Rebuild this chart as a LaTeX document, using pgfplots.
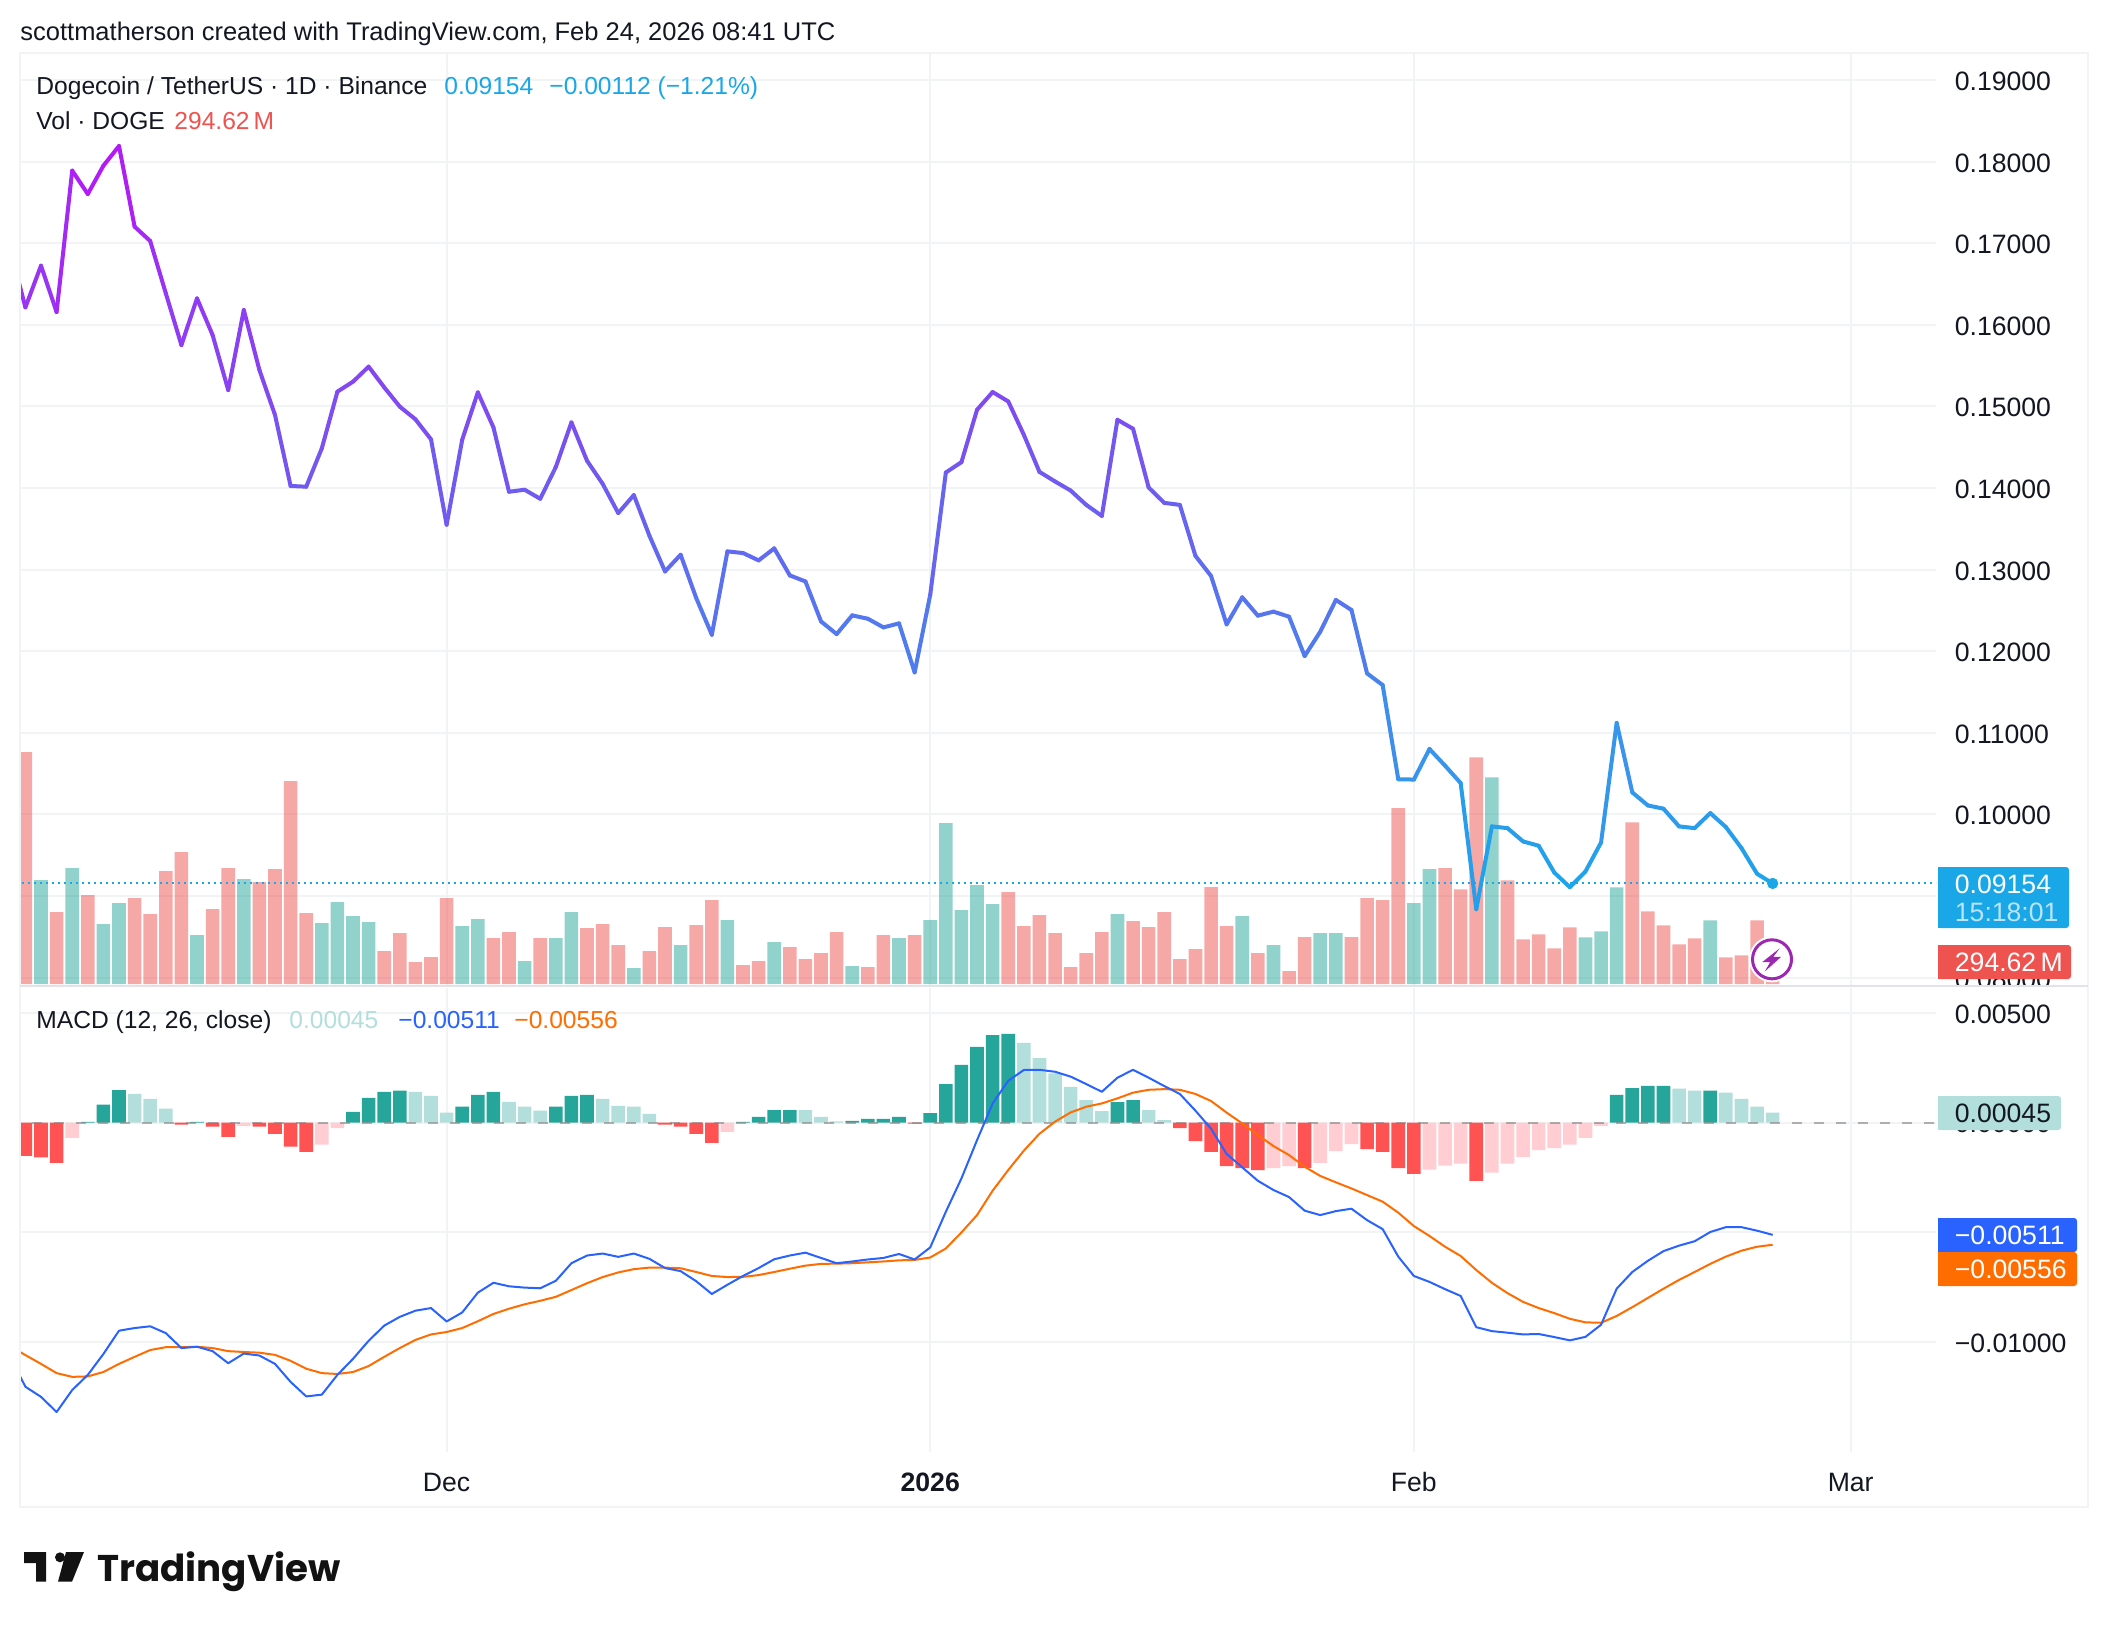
\documentclass[border=0pt]{standalone}
\usepackage{fontspec}
\usepackage{graphicx}
\usepackage{pgfplots}
\usepackage{pgfplotstable}
\pgfplotsset{compat=1.18}
\setmainfont{Liberation Sans}
\newfontfamily\logofont{Poppins}

\definecolor{gridc}{HTML}{F2F3F5}
\definecolor{sepc}{HTML}{E0E3EB}
\definecolor{cyanc}{HTML}{19A7E8}
\definecolor{upvol}{HTML}{26A69A}
\definecolor{dnvol}{HTML}{EF5350}
\definecolor{upD}{HTML}{26A69A}
\definecolor{upL}{HTML}{B2DFDB}
\definecolor{dnD}{HTML}{FF5252}
\definecolor{dnL}{HTML}{FFCDD2}
\definecolor{macdc}{HTML}{2962FF}
\definecolor{sigc}{HTML}{FF6D00}
\definecolor{txt}{HTML}{131722}
\definecolor{boltc}{HTML}{9C27B0}

% day, close, macd, signal (day 0 = Nov 4, 27 = Dec 1, 58 = Jan 1, 89 = Feb 1)
\pgfplotstableread{
day close macd signal
-1 0.16950 -0.01062 -0.01017
0 0.16214 -0.01202 -0.01058
1 0.16725 -0.01248 -0.01098
2 0.16157 -0.01317 -0.01140
3 0.17889 -0.01217 -0.01157
4 0.17603 -0.01148 -0.01155
5 0.17950 -0.01053 -0.01135
6 0.18191 -0.00947 -0.01098
7 0.17203 -0.00935 -0.01066
8 0.17027 -0.00927 -0.01035
9 0.16386 -0.00958 -0.01022
10 0.15752 -0.01026 -0.01022
11 0.16324 -0.01020 -0.01020
12 0.15875 -0.01040 -0.01026
13 0.15201 -0.01095 -0.01040
14 0.16181 -0.01051 -0.01044
15 0.15446 -0.01060 -0.01047
16 0.14895 -0.01098 -0.01057
17 0.14025 -0.01180 -0.01084
18 0.14016 -0.01246 -0.01120
19 0.14486 -0.01238 -0.01140
20 0.15181 -0.01148 -0.01144
21 0.15303 -0.01075 -0.01135
22 0.15487 -0.00993 -0.01108
23 0.15234 -0.00924 -0.01066
24 0.14997 -0.00884 -0.01026
25 0.14842 -0.00856 -0.00989
26 0.14596 -0.00844 -0.00964
27 0.13550 -0.00905 -0.00953
28 0.14592 -0.00864 -0.00935
29 0.15172 -0.00774 -0.00904
30 0.14743 -0.00729 -0.00871
31 0.13954 -0.00745 -0.00847
32 0.13979 -0.00751 -0.00827
33 0.13868 -0.00754 -0.00811
34 0.14257 -0.00720 -0.00793
35 0.14804 -0.00640 -0.00762
36 0.14334 -0.00605 -0.00731
37 0.14052 -0.00596 -0.00703
38 0.13693 -0.00611 -0.00682
39 0.13913 -0.00596 -0.00667
40 0.13415 -0.00620 -0.00660
41 0.12978 -0.00662 -0.00660
42 0.13182 -0.00676 -0.00663
43 0.12651 -0.00722 -0.00680
44 0.12202 -0.00780 -0.00698
45 0.13223 -0.00738 -0.00703
46 0.13203 -0.00698 -0.00702
47 0.13113 -0.00662 -0.00694
48 0.13260 -0.00622 -0.00680
49 0.12929 -0.00605 -0.00665
50 0.12855 -0.00592 -0.00651
51 0.12365 -0.00616 -0.00643
52 0.12210 -0.00640 -0.00642
53 0.12439 -0.00632 -0.00640
54 0.12398 -0.00623 -0.00636
55 0.12292 -0.00616 -0.00632
56 0.12341 -0.00598 -0.00627
57 0.11741 -0.00623 -0.00625
58 0.12693 -0.00568 -0.00614
59 0.14190 -0.00406 -0.00573
60 0.14317 -0.00254 -0.00500
61 0.14959 -0.00080 -0.00421
62 0.15176 0.00087 -0.00310
63 0.15061 0.00190 -0.00216
64 0.14652 0.00239 -0.00128
65 0.14198 0.00240 -0.00051
66 0.14080 0.00231 0.00004
67 0.13969 0.00209 0.00046
68 0.13793 0.00175 0.00072
69 0.13658 0.00140 0.00087
70 0.14836 0.00204 0.00110
71 0.14726 0.00240 0.00136
72 0.14006 0.00204 0.00149
73 0.13818 0.00166 0.00152
74 0.13793 0.00130 0.00149
75 0.13168 0.00054 0.00130
76 0.12922 -0.00028 0.00098
77 0.12329 -0.00143 0.00045
78 0.12660 -0.00204 -0.00004
79 0.12436 -0.00265 -0.00057
80 0.12485 -0.00307 -0.00107
81 0.12423 -0.00339 -0.00148
82 0.11941 -0.00401 -0.00201
83 0.12239 -0.00421 -0.00243
84 0.12628 -0.00403 -0.00272
85 0.12505 -0.00392 -0.00300
86 0.11728 -0.00444 -0.00330
87 0.11585 -0.00485 -0.00360
88 0.10431 -0.00610 -0.00410
89 0.10427 -0.00698 -0.00471
90 0.10802 -0.00725 -0.00516
91 0.10597 -0.00758 -0.00565
92 0.10384 -0.00789 -0.00607
93 0.08838 -0.00931 -0.00671
94 0.09853 -0.00949 -0.00729
95 0.09832 -0.00956 -0.00776
96 0.09669 -0.00964 -0.00816
97 0.09616 -0.00962 -0.00844
98 0.09288 -0.00976 -0.00867
99 0.09108 -0.00991 -0.00893
100 0.09301 -0.00975 -0.00909
101 0.09656 -0.00920 -0.00911
102 0.11121 -0.00756 -0.00880
103 0.10270 -0.00680 -0.00840
104 0.10110 -0.00629 -0.00798
105 0.10070 -0.00585 -0.00756
106 0.09853 -0.00560 -0.00716
107 0.09832 -0.00540 -0.00680
108 0.10016 -0.00498 -0.00643
109 0.09845 -0.00476 -0.00610
110 0.09587 -0.00476 -0.00583
111 0.09272 -0.00492 -0.00565
112 0.09154 -0.00511 -0.00556
}\series

\pgfplotsset{
  panel/.style={
    scale only axis, width=958pt,
    xmin=-0.346, xmax=122.47,
    xtick={27,58,89,117},
    major tick length=0pt,
    axis line style={draw=none},
    scaled y ticks=false,
    grid=major,
    grid style={draw=gridc, line width=1pt},
    ytick pos=right, yticklabel pos=right,
    xticklabels={},
    y tick label style={anchor=base west, inner sep=0pt, xshift=9.2pt, yshift=-5.2pt,
      font=\fontsize{13.3}{15}\selectfont, text=txt},
    x tick label style={anchor=base, inner sep=0pt, yshift=-19.6pt,
      font=\fontsize{13.3}{15}\selectfont, text=txt},
  },
  overlay/.style={
    scale only axis, width=958pt, hide axis,
    xmin=-0.346, xmax=122.47,
  },
  vbar/.style={ybar, bar width=6.8pt, bar shift=0pt, draw=none, fill=#1},
}

\begin{document}
\begin{tikzpicture}
\begin{scope}[x=0.5pt,y=-0.5pt]
\path[use as bounding box, fill=white] (0,0) rectangle (2108,1628);
\end{scope}

% price pane: grid and price scale (0.09000 sits behind the last-price box)
\begin{axis}[panel, at={(10pt,-493pt)}, anchor=south west, height=466.5pt,
  ymin=0.07897, ymax=0.19331,
  ytick={0.08,0.09,0.10,0.11,0.12,0.13,0.14,0.15,0.16,0.17,0.18,0.19},
  yticklabels={0.08000,,0.10000,0.11000,0.12000,0.13000,0.14000,0.15000,0.16000,0.17000,0.18000,0.19000},
]
\end{axis}

% volume, in millions
\begin{axis}[overlay, at={(10pt,-493pt)}, anchor=south west, height=466.5pt,
  ymin=-45, ymax=21097]
\addplot[vbar=dnvol, fill opacity=0.5] coordinates {
(0,5257)(2,1631)(4,2017)(7,1949)(8,1586)(9,2560)(10,2991)(12,1699)(13,2628)(15,2311)
(16,2606)(17,4600)(18,1609)(23,748)(24,1156)(25,498)(26,612)(27,1949)(30,1042)(31,1178)
(33,1042)(36,1269)(37,1360)(38,884)(40,748)(41,1292)(43,1337)(44,1903)(46,431)(47,521)
(49,838)(50,566)(51,702)(52,1178)(54,385)(55,1110)(57,1110)(63,2085)(64,1314)(65,1563)
(66,1156)(67,385)(68,702)(69,1178)(71,1427)(72,1292)(73,1631)(74,566)(75,793)(76,2198)
(77,1314)(79,702)(81,295)(82,1065)(85,1065)(86,1949)(87,1903)(88,3988)(91,2628)(92,2145)
(93,5136)(95,2349)(96,1012)(97,1125)(98,808)(99,1284)(103,3663)(104,1647)(105,1329)(106,899)
(107,1035)(109,604)(110,650)(111,1443)(112,295)
};
\addplot[vbar=upvol, fill opacity=0.5] coordinates {
(1,2357)(3,2628)(5,1360)(6,1835)(11,1110)(14,2379)(19,1382)(20,1858)(21,1541)(22,1405)
(28,1314)(29,1473)(32,521)(34,1042)(35,1631)(39,363)(42,884)(45,1450)(48,952)(53,408)
(56,1042)(58,1450)(59,3648)(60,1677)(61,2243)(62,1813)(70,1586)(78,1541)(80,884)(83,1156)
(84,1156)(89,1835)(90,2606)(94,4683)(100,1057)(101,1193)(102,2190)(108,1443)
};
\end{axis}

% price line, coloured by price
\begin{axis}[overlay, at={(10pt,-493pt)}, anchor=south west, height=466.5pt,
  ymin=0.07897, ymax=0.19331,
  colormap={dogegrad}{rgb255(0cm)=(26,166,234) rgb255(1cm)=(60,146,236) rgb255(2cm)=(88,116,240) rgb255(3cm)=(118,84,240) rgb255(4cm)=(146,58,244) rgb255(5cm)=(182,24,246)},
  point meta min=0.09, point meta max=0.18]
\addplot[cyanc, line width=1pt, dash pattern=on 1pt off 2pt] coordinates {(-1,0.09154)(123,0.09154)};
\addplot[mesh, point meta=y, line width=2pt, line cap=round, line join=round] table[x=day,y=close] {\series};
\addplot[only marks, mark=*, mark size=2.6pt, cyanc] coordinates {(112,0.09154)};
\end{axis}

\begin{scope}[x=0.5pt,y=-0.5pt]
\fill[white] (1936,986) rectangle (2086,1000);
\end{scope}

% MACD pane (-0.00500 sits behind the MACD value box)
\begin{axis}[panel, at={(10pt,-726pt)}, anchor=south west, height=232pt,
  ymin=-0.01499, ymax=0.00612,
  ytick={-0.01,-0.005,0,0.005},
  yticklabels={−0.01000,,0.00000,0.00500},
  xticklabels={Dec,\textbf{2026},Feb,Mar},
]
\addplot[vbar=upD] coordinates {
(4,0.00003)(5,0.00081)(6,0.00148)(11,0.00003)(21,0.00048)(22,0.00112)(23,0.00139)(24,0.00145)
(28,0.00072)(29,0.00126)(30,0.00139)(34,0.00072)(35,0.00121)(36,0.00126)(46,0.00003)(47,0.00026)
(48,0.00057)(49,0.00057)(53,0.00008)(54,0.00017)(55,0.00017)(56,0.00026)(58,0.00043)(59,0.00175)
(60,0.00262)(61,0.00344)(62,0.00398)(63,0.00403)(70,0.00093)(71,0.00102)(102,0.00126)(103,0.00157)
(104,0.00167)(105,0.00167)(108,0.00145)
};
\addplot[vbar=upL] coordinates {
(7,0.00130)(8,0.00108)(9,0.00063)(25,0.00139)(26,0.00121)(27,0.00045)(31,0.00094)(32,0.00072)
(33,0.00054)(37,0.00108)(38,0.00076)(39,0.00072)(40,0.00039)(50,0.00057)(51,0.00026)(52,0.00005)
(64,0.00362)(65,0.00293)(66,0.00224)(67,0.00162)(68,0.00102)(69,0.00052)(72,0.00057)(73,0.00011)
(106,0.00154)(107,0.00145)(109,0.00136)(110,0.00108)(111,0.00072)(112,0.00045)
};
\addplot[vbar=dnD] coordinates {
(0,-0.00152)(1,-0.00159)(2,-0.00183)(10,-0.00010)(12,-0.00019)(13,-0.00065)(15,-0.00019)(16,-0.00052)
(17,-0.00110)(18,-0.00134)(41,-0.00010)(42,-0.00019)(43,-0.00052)(44,-0.00092)(57,-0.00005)
(74,-0.00025)(75,-0.00084)(76,-0.00134)(77,-0.00198)(78,-0.00207)(79,-0.00216)(82,-0.00207)
(86,-0.00121)(87,-0.00134)(88,-0.00207)(89,-0.00234)(93,-0.00265)
};
\addplot[vbar=dnL] coordinates {
(3,-0.00070)(14,-0.00015)(19,-0.00101)(20,-0.00025)(45,-0.00043)(80,-0.00207)(81,-0.00198)
(83,-0.00184)(84,-0.00130)(85,-0.00098)(90,-0.00214)(91,-0.00196)(92,-0.00187)(94,-0.00228)
(95,-0.00187)(96,-0.00156)(97,-0.00125)(98,-0.00116)(99,-0.00101)(100,-0.00070)(101,-0.00015)
};
\addplot[gray, opacity=0.6, line width=1pt, dash pattern=on 5pt off 6pt] coordinates {(-1,0)(123,0)};
\addplot[sigc, line width=1pt, line join=round] table[x=day,y=signal] {\series};
\addplot[macdc, line width=1pt, line join=round] table[x=day,y=macd] {\series};
\end{axis}

\begin{scope}[x=0.5pt,y=-0.5pt, every node/.style={inner sep=0pt, anchor=base west}]
% frame and separator
\draw[gridc, line width=1pt] (20,53) -- (2088,53) -- (2088,1507) -- (20,1507) -- cycle;
\draw[sepc, line width=1.2pt] (20,986) -- (2088,986);

\def\fs{\fontsize{12.75}{15}\selectfont}
\def\ls{\fontsize{12.3}{15}\selectfont}
\def\rs{\fontsize{13.3}{15}\selectfont}
\node[text=txt] at (20,40) {\fs scottmatherson created with TradingView.com, Feb 24, 2026 08:41 UTC};
\node[text=txt] at (36,94) {\ls Dogecoin / TetherUS · 1D · Binance};
\node[text=cyanc] at (444,94) {\ls 0.09154};
\node[text=cyanc] at (549,94) {\ls −0.00112 (−1.21\%)};
\node[text=txt] at (36,129) {\ls Vol · DOGE};
\node[text=dnvol] at (174,129) {\ls 294.62\,M};
\node[text=txt] at (36,1028) {\ls MACD (12, 26, close)};
\node[text=upL] at (289,1028) {\ls 0.00045};
\node[text=macdc] at (398,1028) {\ls −0.00511};
\node[text=sigc] at (514,1028) {\ls −0.00556};

% right scale labels
\fill[cyanc, rounded corners=1.5pt] (1938,867) rectangle (2069,928);
\fill[cyanc] (1938,867) rectangle (1960,928);
\node[text=white] at (1954.5,893) {\rs 0.09154};
\node[text=white, opacity=0.7] at (1954.5,921) {\rs 15:18:01};
\fill[dnvol, rounded corners=1.5pt] (1938,945) rectangle (2071,979);
\fill[dnvol] (1938,945) rectangle (1960,979);
\node[text=white] at (1954.5,971) {\rs 294.62\,M};
\fill[upL, rounded corners=1.5pt] (1938,1096) rectangle (2061,1130);
\fill[upL] (1938,1096) rectangle (1960,1130);
\node[text=txt] at (1954.5,1122) {\rs 0.00045};
\fill[macdc, rounded corners=1.5pt] (1938,1218) rectangle (2077,1252);
\fill[macdc] (1938,1218) rectangle (1960,1252);
\node[text=white] at (1954.5,1244) {\rs −0.00511};
\fill[sigc, rounded corners=1.5pt] (1938,1252) rectangle (2077,1286);
\fill[sigc] (1938,1252) rectangle (1960,1286);
\node[text=white] at (1954.5,1278) {\rs −0.00556};

% bolt badge
\fill[white] (1772,959.3) circle (23);
\draw[boltc, line width=1.5pt] (1772,959.3) circle (19.5);
\fill[boltc] (1779.7,948.3) -- (1762.3,962) -- (1770.2,962) -- (1764.7,971.6) -- (1781,956.9) -- (1773.2,956.9) -- cycle;

% logo
\fill[black!93] (24,1552) -- (46,1552) -- (46,1581.7) -- (36,1581.7) -- (36,1563) -- (24,1563) -- cycle;
\fill[black!93] (60,1557.3) circle (5);
\fill[black!93] (66,1552) -- (84,1552) -- (72,1581.7) -- (58,1581.7) -- cycle;
\node[text=black!93] at (97,1581.7) {\resizebox{121.5pt}{!}{\logofont\bfseries TradingView}};
\end{scope}
\end{tikzpicture}
\end{document}
